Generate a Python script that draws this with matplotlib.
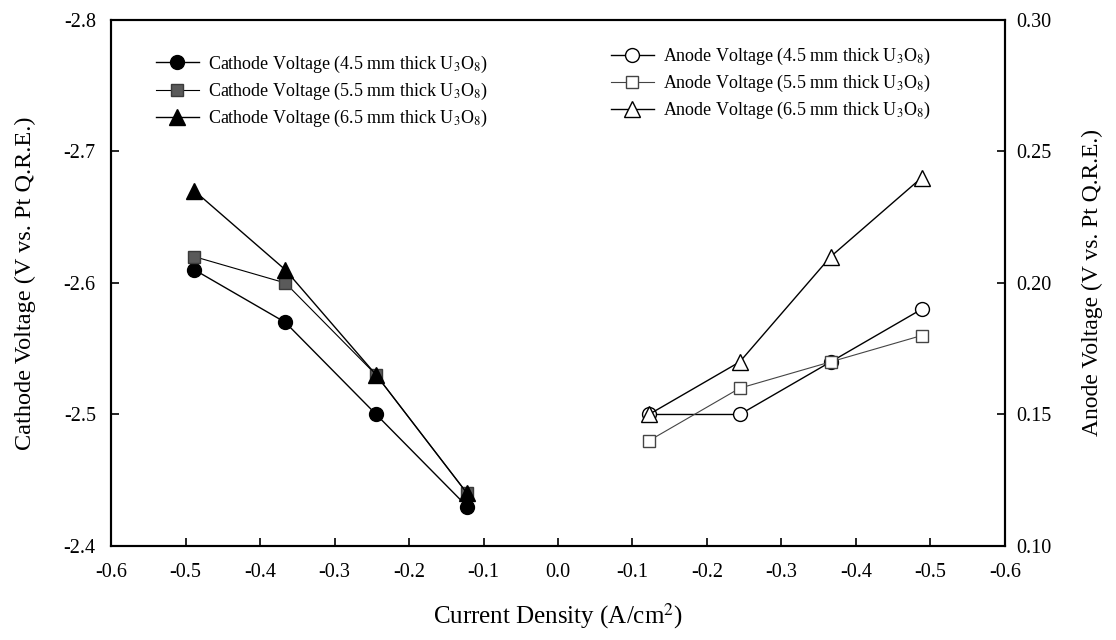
import numpy as np
import matplotlib
matplotlib.use("Agg")
import matplotlib.pyplot as plt
from matplotlib.ticker import FixedLocator, FuncFormatter

plt.rcParams['font.family'] = ['Liberation Serif', 'DejaVu Serif']
plt.rcParams['mathtext.fontset'] = 'stix'

# current densities (A/cm2)
current = [-0.122, -0.244, -0.366, -0.488]

# cathode voltages (V vs. Pt Q.R.E.)
cathode_45 = [-2.43, -2.50, -2.57, -2.61]
cathode_55 = [-2.44, -2.53, -2.60, -2.62]
cathode_65 = [-2.44, -2.53, -2.61, -2.67]

# anode voltages (V vs. Pt Q.R.E.)
anode_45 = [0.15, 0.15, 0.17, 0.19]
anode_55 = [0.14, 0.16, 0.17, 0.18]
anode_65 = [0.15, 0.17, 0.21, 0.24]

x_ticks = [-0.6, -0.5, -0.4, -0.3, -0.2, -0.1, 0.0, 0.1, 0.2, 0.3, 0.4, 0.5, 0.6]
left_ticks = [-2.8, -2.7, -2.6, -2.5, -2.4]
right_ticks = [0.10, 0.15, 0.20, 0.25, 0.30]

fig = plt.figure(figsize=(11.16, 6.4), dpi=100)
ax = fig.add_axes([0.0995, 0.1469, 0.801, 0.8219])
ax2 = ax.twinx()

ms = 10
# cathode on the left half (negative positions)
l1, = ax.plot(current, cathode_45, '-', color='black', lw=1.0, marker='o', ms=ms,
              mfc='black', mec='black')
l2, = ax.plot(current, cathode_55, '-', color='black', lw=0.8, marker='s', ms=ms - 1,
              mfc='#5a5a5a', mec='#3a3a3a')
l3, = ax.plot(current, cathode_65, '-', color='black', lw=1.0, marker='^', ms=ms + 1,
              mfc='black', mec='black')

# anode on the right half, mirrored axis
anode_pos = np.abs(current)
r1, = ax2.plot(anode_pos, anode_45, '-', color='black', lw=1.0, marker='o', ms=ms,
               mfc='white', mec='black')
r2, = ax2.plot(anode_pos, anode_55, '-', color='#444444', lw=0.8, marker='s', ms=ms - 1,
               mfc='white', mec='#444444')
r3, = ax2.plot(anode_pos, anode_65, '-', color='black', lw=1.0, marker='^', ms=ms + 1,
               mfc='white', mec='black')

ax.set_xlim(-0.6, 0.6)
ax.set_ylim(-2.4, -2.8)
ax2.set_ylim(0.10, 0.30)

ax.xaxis.set_major_locator(FixedLocator(x_ticks))
ax.xaxis.set_major_formatter(FuncFormatter(lambda v, p: '0.0' if abs(v) < 1e-9 else f'{-abs(v):.1f}'))
ax.yaxis.set_major_locator(FixedLocator(left_ticks))
ax.yaxis.set_major_formatter(FuncFormatter(lambda v, p: f'{v:.1f}'))
ax2.yaxis.set_major_locator(FixedLocator(right_ticks))
ax2.yaxis.set_major_formatter(FuncFormatter(lambda v, p: f'{v:.2f}'))

ax.tick_params(axis='x', direction='in', length=6, width=1.2, pad=12, labelsize=14.5)
ax.tick_params(axis='y', direction='in', length=6, width=1.2, pad=11, labelsize=14.5)
ax2.tick_params(axis='y', direction='in', length=6, width=1.2, pad=8, labelsize=14.5)
for a in (ax, ax2):
    for s in a.spines.values():
        s.set_linewidth(1.5)

ax.set_xlabel('Current Density (A/cm$^{2}$)', fontsize=18, labelpad=14)
ax.set_ylabel('Cathode Voltage (V vs. Pt Q.R.E.)', fontsize=17.5, labelpad=20)
ax2.set_ylabel('Anode Voltage (V vs. Pt Q.R.E.)', fontsize=17, labelpad=22)

leg1 = ax2.legend([l1, l2, l3],
                  ['Cathode Voltage (4.5 mm thick U$_3$O$_8$)',
                   'Cathode Voltage (5.5 mm thick U$_3$O$_8$)',
                   'Cathode Voltage (6.5 mm thick U$_3$O$_8$)'],
                  loc='upper left', bbox_to_anchor=(0.04, 0.953), frameon=False,
                  fontsize=13, handlelength=2.4, handletextpad=0.5, labelspacing=0.33,
                  borderpad=0)
ax2.add_artist(leg1)
ax2.legend([r1, r2, r3],
           ['Anode Voltage (4.5 mm thick U$_3$O$_8$)',
            'Anode Voltage (5.5 mm thick U$_3$O$_8$)',
            'Anode Voltage (6.5 mm thick U$_3$O$_8$)'],
           loc='upper left', bbox_to_anchor=(0.549, 0.968), frameon=False,
           fontsize=13, handlelength=2.4, handletextpad=0.5, labelspacing=0.33,
           borderpad=0)

fig.savefig('out.png', dpi=100)
